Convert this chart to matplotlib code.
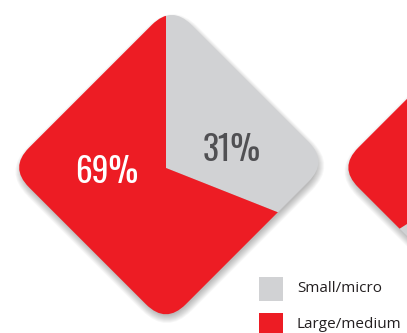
import matplotlib
matplotlib.use('Agg')
import matplotlib.pyplot as plt
from matplotlib.patches import FancyBboxPatch, Rectangle
from matplotlib.transforms import Affine2D

# ---- data ----
categories = ['Small/micro', 'Large/medium']
left_values = [31, 69]
right_values = [66, 34]
colors = ['#D1D2D4', '#ED1C24']
label_colors = ['#505053', '#FFFFFF']

W, H = 407, 333
fig = plt.figure(figsize=(W / 100, H / 100), dpi=100)
ax = fig.add_axes([0, 0, 1, 1])

NUM_FONT = ['Oswald', 'Fira Sans Extra Condensed', 'DejaVu Sans']
LEG_FONT = ['Open Sans', 'DejaVu Sans']


def diamond(cx, cy, hw, hh, r, **kw):
    p = FancyBboxPatch((-hw + r, -hh + r), 2 * (hw - r), 2 * (hh - r),
                       boxstyle=f'round,pad={r}', **kw)
    p.set_transform(Affine2D().rotate_deg(45).translate(cx, cy) + ax.transData)
    return p


HW, HH, RR = 114.9, 110.8, 28


def draw_pie(values, dcx, dcy, pcx, pcy, label_pos):
    # soft drop shadow
    for i in range(9):
        grow = i * 0.9
        sh = diamond(dcx + 1.0, dcy - 4.0, HW + grow - 2, HH + grow - 2, RR + grow,
                     facecolor='#000000', edgecolor='none', alpha=0.03, zorder=1)
        ax.add_patch(sh)
    clip = diamond(dcx, dcy, HW, HH, RR, facecolor='none', edgecolor='none', zorder=2)
    ax.add_patch(clip)
    wedges, _ = ax.pie(values, colors=colors, startangle=90, counterclock=False,
                       center=(pcx, pcy), radius=260, frame=True,
                       wedgeprops=dict(linewidth=0, edgecolor='none'))
    for w in wedges:
        w.set_clip_on(True)
        w.set_clip_path(clip)
        w.set_zorder(3)
    for v, (x, y), c in zip(values, label_pos, label_colors):
        ax.text(x, y, f'{v}%', color=c, ha='center', va='center', zorder=5,
                fontsize=24, family=NUM_FONT)


draw_pie(left_values, 168.8, 168.4, 166.0, 165.0,
         [(232, 333 - 150), (107, 333 - 172)])
draw_pie(right_values, 498.0, 168.4, 495.2, 165.0,
         [(560, 333 - 150), (438, 333 - 141)])

# ---- legend ----
leg_y = [333 - 289, 333 - 325]
for cat, col, y in zip(categories, colors, leg_y):
    ax.add_patch(Rectangle((259, y - 12), 24, 24, facecolor=col, edgecolor='none', zorder=6))
    ax.text(297, y, cat, ha='left', va='center', fontsize=11, color='#231F20',
            family=LEG_FONT, zorder=6)

ax.set_xlim(0, W)
ax.set_ylim(0, H)
ax.set_aspect('auto')
ax.axis('off')

fig.savefig('out.png', dpi=100, facecolor='white')
